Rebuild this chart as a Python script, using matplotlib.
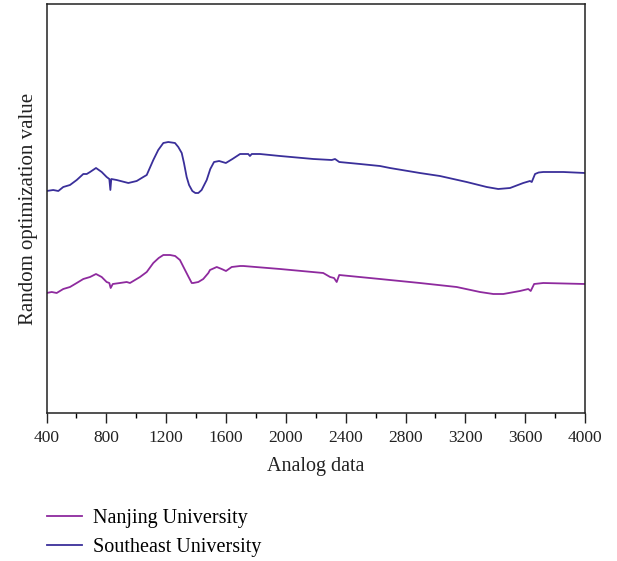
import matplotlib
matplotlib.use("Agg")
import matplotlib.pyplot as plt
from matplotlib.ticker import MultipleLocator

plt.rcParams['font.family'] = ['Liberation Serif', 'DejaVu Serif']

# Southeast University spectrum
se_x = [400, 445, 479, 512, 557, 602, 646, 669, 691, 731, 769, 802, 820, 827, 833,
        869, 947, 1003, 1047, 1070, 1114, 1147, 1181, 1214, 1259, 1281, 1304, 1319,
        1337, 1353, 1375, 1395, 1415, 1437, 1471, 1495, 1520, 1554, 1599, 1643, 1694,
        1749, 1760, 1772, 1827, 1961, 2184, 2307, 2329, 2357, 2496, 2629, 2696, 2896,
        3030, 3209, 3343, 3420, 3499, 3587, 3632, 3644, 3666, 3690, 3721, 3855, 4000]
se_y = [222, 223, 222, 226, 228, 233, 239, 239, 241, 245, 241, 236, 234, 223, 234,
        233, 230, 232, 236, 238, 253, 263, 270, 271, 270, 266, 260, 250,
        236, 228, 222, 220, 220, 223, 233, 244, 251, 252, 250, 254, 259,
        259, 257, 259, 259, 257, 254, 253, 254, 251, 249, 247, 245, 240,
        237, 231, 226, 224, 225, 230, 232, 231, 239, 240.5, 241, 241, 240]

# Nanjing University spectrum
nj_x = [400, 435, 468, 512, 557, 602, 646, 691, 731, 769, 802, 820, 829, 843, 891,
        936, 958, 1025, 1070, 1114, 1150, 1181, 1226, 1260, 1292, 1326, 1350, 1371,
        1381, 1415, 1448, 1482, 1493, 1538, 1571, 1600, 1638, 1694, 1716, 1961, 2250,
        2296, 2322, 2340, 2357, 2629, 2896, 3142, 3298, 3387, 3454, 3565, 3621, 3637,
        3660, 3721, 4000]
nj_y = [120, 121, 120, 124, 126, 130, 134, 136, 139, 136, 131, 130, 125, 129, 130,
        131, 130, 136, 141, 150, 155, 158, 158, 157, 153, 143, 136, 130,
        130, 131, 134, 140, 143, 146, 144, 142, 146, 147, 147, 144, 140,
        136, 135, 131, 138, 134, 130, 126, 121, 119, 119, 122, 124, 122,
        129, 130, 129]

x_ticks = [400, 800, 1200, 1600, 2000, 2400, 2800, 3200, 3600, 4000]

fig = plt.figure(figsize=(6.17, 5.61), dpi=100)
ax = fig.add_axes([46.5 / 617, 1 - 413 / 561, (585 - 46.5) / 617, (413 - 4) / 561])

l1, = ax.plot(nj_x, nj_y, color='#8E2A9E', lw=1.3, label='Nanjing University',
              solid_joinstyle='round')
l2, = ax.plot(se_x, se_y, color='#3A2F9A', lw=1.3, label='Southeast University',
              solid_joinstyle='round')

ax.set_xlim(400, 4000)
ax.set_ylim(0, 409)
ax.set_xticks(x_ticks)
ax.set_xticklabels([str(t) for t in x_ticks])
ax.xaxis.set_minor_locator(MultipleLocator(200))
ax.tick_params(axis='x', which='major', direction='out', length=7, width=1,
               labelsize=12.5, pad=5, colors='#222222', labelcolor='#222222')
ax.tick_params(axis='x', which='minor', direction='out', length=3.5, width=1)
ax.set_yticks([])
for s in ax.spines.values():
    s.set_linewidth(1.1)
    s.set_color('#222222')

ax.set_xlabel('Analog data', fontsize=14.5, color='#222222', labelpad=8)
ax.set_ylabel('Random optimization value', fontsize=15, color='#222222', labelpad=6)

fig.legend(handles=[l1, l2], loc='upper left', bbox_to_anchor=(47 / 617, 1 - 509 / 561),
           frameon=False, fontsize=14.5, handlelength=1.75, handletextpad=0.55,
           labelspacing=0.5, borderpad=0, borderaxespad=0,
           bbox_transform=fig.transFigure)

fig.savefig('out.png', dpi=100)
